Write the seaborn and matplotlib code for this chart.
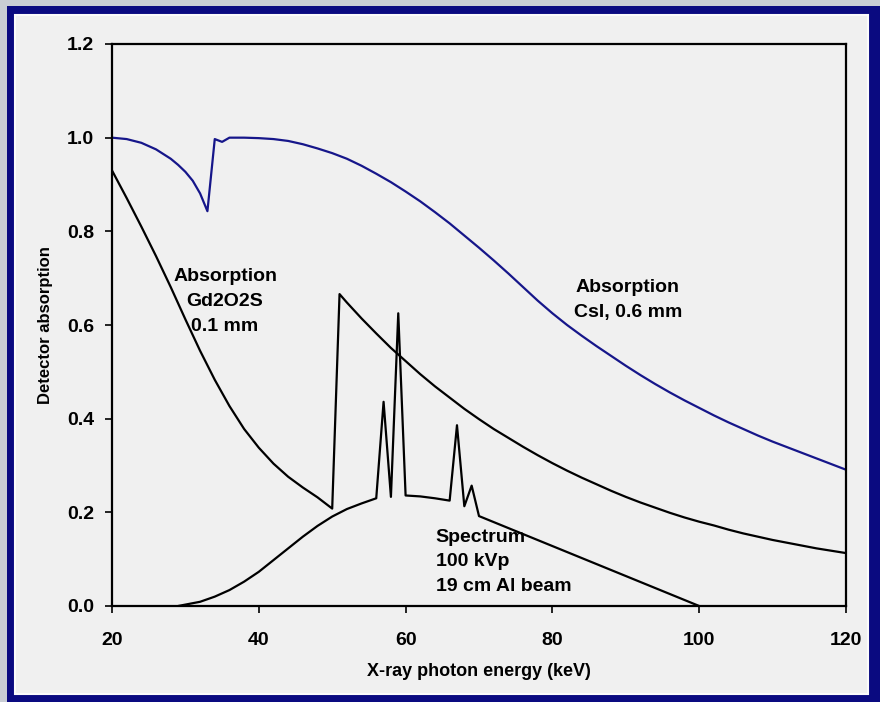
import matplotlib
matplotlib.use("Agg")
import matplotlib.pyplot as plt
from matplotlib.patches import Rectangle
import seaborn as sns
import pandas as pd

# ---------------- data ----------------
csi_energy = [20, 22, 24, 26, 28, 29, 30, 31, 32, 33, 34, 35, 36, 38, 40, 42, 44, 46, 48, 50,
              52, 54, 56, 58, 60, 62, 64, 66, 68, 70, 72, 74, 76, 78, 80, 82, 84, 86,
              88, 90, 92, 94, 96, 98, 100, 102, 104, 106, 108, 110, 112, 114, 116, 118, 120]
csi_absorption = [1.000, 0.997, 0.989, 0.975, 0.955, 0.942, 0.927, 0.908, 0.881, 0.843, 0.997,
                  0.991, 1.000, 1.000, 0.999, 0.997, 0.993, 0.986, 0.977, 0.967, 0.955, 0.940,
                  0.923, 0.905, 0.885, 0.864, 0.841, 0.817, 0.791, 0.765, 0.738, 0.710, 0.681,
                  0.652, 0.625, 0.600, 0.577, 0.555, 0.534, 0.513, 0.493, 0.474, 0.456, 0.439,
                  0.423, 0.407, 0.392, 0.378, 0.364, 0.351, 0.339, 0.327, 0.315, 0.303, 0.291]

gd_energy = [20, 22, 24, 26, 28, 30, 32, 34, 36, 38, 40, 42, 44, 46, 48, 50, 51, 52, 54, 56,
             58, 60, 62, 64, 66, 68, 70, 72, 74, 76, 78, 80, 82, 84, 86, 88, 90, 92, 94, 96,
             98, 100, 102, 104, 106, 108, 110, 112, 114, 116, 118, 120]
gd_absorption = [0.930, 0.871, 0.810, 0.747, 0.681, 0.612, 0.545, 0.483, 0.427, 0.378, 0.338,
                 0.304, 0.276, 0.253, 0.232, 0.208, 0.666, 0.648, 0.614, 0.582, 0.551, 0.523,
                 0.495, 0.469, 0.445, 0.421, 0.399, 0.378, 0.359, 0.340, 0.322, 0.305, 0.289,
                 0.274, 0.260, 0.246, 0.233, 0.221, 0.210, 0.199, 0.189, 0.180, 0.172, 0.163,
                 0.155, 0.148, 0.141, 0.135, 0.129, 0.123, 0.118, 0.113]

spec_energy = [29, 30, 32, 34, 36, 38, 40, 42, 44, 46, 48, 50, 52, 54, 56, 57, 58, 59, 60,
               62, 64, 66, 67, 68, 69, 70, 80, 90, 100]
spec_value = [0.000, 0.003, 0.009, 0.020, 0.034, 0.052, 0.073, 0.098, 0.123, 0.148, 0.171,
              0.191, 0.207, 0.219, 0.230, 0.436, 0.233, 0.625, 0.236, 0.234, 0.230, 0.225,
              0.386, 0.213, 0.257, 0.192, 0.128, 0.064, 0.000]

x_ticks = [20, 40, 60, 80, 100, 120]
y_ticks = [0.0, 0.2, 0.4, 0.6, 0.8, 1.0, 1.2]
x_label = "X-ray photon energy (keV)"
y_label = "Detector absorption"
label_gd = "Absorption\nGd2O2S\n0.1 mm"
label_csi = "Absorption\nCsI, 0.6 mm"
label_spec = "Spectrum\n100 kVp\n19 cm Al beam"

# ---------------- styling ----------------
sns.set_theme(style="white")
plt.rcParams["font.family"] = ["Liberation Sans", "DejaVu Sans"]

W, H = 880, 702
fig = plt.figure(figsize=(W / 100, H / 100), dpi=100)
fig.patch.set_facecolor("#c9cdd4")

def fx(px):
    return px / W

def fy(py):
    return 1 - py / H

# navy frame and inner light panel (behind the axes)
fig.patches.append(Rectangle((fx(7), 0), 1.0, fy(6), transform=fig.transFigure,
                             facecolor="#0a0a80", edgecolor="none", zorder=-20))
fig.patches.append(Rectangle((fx(15), fy(694)), fx(868) - fx(15), fy(15) - fy(694),
                             transform=fig.transFigure, facecolor="#f0f0f0",
                             edgecolor="#fbfbfb", linewidth=1.5, zorder=-10))

ax = fig.add_axes([fx(112), fy(606), fx(846) - fx(112), fy(44) - fy(606)])
ax.set_facecolor("#f0f0f0")
ax.set_zorder(5)

df_csi = pd.DataFrame({"energy": csi_energy, "value": csi_absorption})
df_gd = pd.DataFrame({"energy": gd_energy, "value": gd_absorption})
df_sp = pd.DataFrame({"energy": spec_energy, "value": spec_value})

sns.lineplot(data=df_csi, x="energy", y="value", ax=ax, color="#16168a",
             linewidth=1.6, estimator=None)
sns.lineplot(data=df_gd, x="energy", y="value", ax=ax, color="black",
             linewidth=1.6, estimator=None)
sns.lineplot(data=df_sp, x="energy", y="value", ax=ax, color="black",
             linewidth=1.6, estimator=None)

ax.set_xlim(20, 120)
ax.set_ylim(0, 1.2)
ax.set_xticks(x_ticks)
ax.set_yticks(y_ticks)
ax.set_xticklabels([str(t) for t in x_ticks])
ax.set_yticklabels([f"{t:.1f}" for t in y_ticks])

for side in ["left", "right", "top", "bottom"]:
    ax.spines[side].set_visible(True)
    ax.spines[side].set_color("black")
    ax.spines[side].set_linewidth(1.6)

ax.tick_params(axis="x", which="major", direction="out", length=5, width=1.2,
               color="black", pad=14, labelsize=14, labelcolor="black",
               bottom=True, top=False)
ax.tick_params(axis="y", which="major", direction="out", length=5, width=1.2,
               color="black", pad=8, labelsize=14, labelcolor="black",
               left=True, right=False)
for lab in ax.get_xticklabels() + ax.get_yticklabels():
    lab.set_fontweight("bold")

ax.set_xlabel(x_label, fontsize=13, fontweight="bold", color="black", va="center")
ax.set_ylabel(y_label, fontsize=12, fontweight="bold", color="black", va="center")
ax.xaxis.set_label_coords(0.5, (606 - 672) / 562)
ax.yaxis.set_label_coords((46 - 112) / 734, 0.5)

ax.text(35.4, 0.650, label_gd, ha="center", va="center", fontsize=14,
        fontweight="bold", color="black", linespacing=1.62, multialignment="center")
ax.text(90.3, 0.653, label_csi, ha="center", va="center", fontsize=14,
        fontweight="bold", color="black", linespacing=1.62, multialignment="center")
ax.text(64.1, 0.094, label_spec, ha="left", va="center", fontsize=14,
        fontweight="bold", color="black", linespacing=1.55, multialignment="left")

fig.savefig("out.png", dpi=100, facecolor=fig.get_facecolor())
